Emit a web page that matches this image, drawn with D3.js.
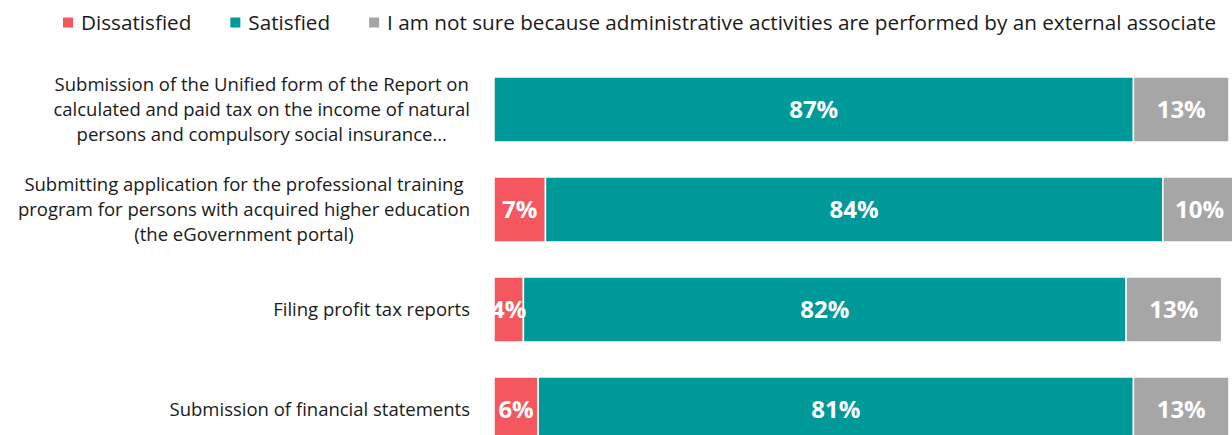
<!DOCTYPE html>
<html>
<head>
<meta charset="utf-8">
<script src="https://cdn.jsdelivr.net/npm/d3@7"></script>
<style>
  html, body { margin: 0; padding: 0; background: #fff; overflow: hidden; }
  svg { display: block; }
</style>
</head>
<body>
<svg id="chart" width="1232" height="435"></svg>
<script>
// Survey services (one line of label text per entry)
const categories = [
  ["Submission of the Unified form of the Report on", "calculated and paid tax on the income of natural", "persons and compulsory social insurance…"],
  ["Submitting application for the professional training", "program for persons with acquired higher education", "(the eGovernment portal)"],
  ["Filing profit tax reports"],
  ["Submission of financial statements"]
];
const seriesNames = ["Dissatisfied", "Satisfied", "I am not sure because administrative activities are performed by an external associate"];
const dissatisfied = [0, 7, 4, 6];
const satisfied = [87, 84, 82, 81];
const notSure = [13, 10, 13, 13];
const colors = ["#F4585E", "#009999", "#A6A6A6"];

const svg = d3.select("#chart");
const font = "'Open Sans', sans-serif";

const rows = categories.map((c, i) => ({ i, label: c, vals: [dissatisfied[i], satisfied[i], notSure[i]] }));

const x = d3.scaleLinear().domain([0, 100]).range([494, 1229]);
const y = d3.scaleBand().domain(d3.range(categories.length)).range([59.5, 459.5])
  .paddingInner(0.35).paddingOuter(0.175);

// Stacked segments
const stack = d3.stack().keys([0, 1, 2]).value((d, k) => d.vals[k]);
const layers = stack(rows);

const g = svg.append("g");
layers.forEach((layer, k) => {
  g.selectAll(null).data(layer.filter(d => d.data.vals[k] > 0)).enter()
    .append("rect")
    .attr("x", d => x(d[0]))
    .attr("y", d => y(d.data.i))
    .attr("width", d => x(d[1]) - x(d[0]))
    .attr("height", y.bandwidth())
    .attr("fill", colors[k])
    .attr("stroke", "#fff")
    .attr("stroke-width", 1.5);
});

// Value labels
layers.forEach((layer, k) => {
  g.selectAll(null).data(layer.filter(d => d.data.vals[k] > 0)).enter()
    .append("text")
    .attr("x", d => (x(d[0]) + x(d[1])) / 2)
    .attr("y", d => y(d.data.i) + y.bandwidth() / 2)
    .attr("dy", "0.36em")
    .attr("text-anchor", "middle")
    .attr("fill", "#fff")
    .attr("font-family", font)
    .attr("font-weight", "bold")
    .attr("font-size", 24)
    .text(d => d.data.vals[k] + "%");
});

// Category labels: centred lines, block right-aligned against the bars
const labelRight = 470;
const lineH = 25;
rows.forEach(r => {
  const t = svg.append("text")
    .attr("font-family", font)
    .attr("font-size", 18.5)
    .attr("fill", "#1a1a1a")
    .attr("text-anchor", "middle");
  const n = r.label.length;
  const cy = y(r.i) + y.bandwidth() / 2;
  const spans = r.label.map((line, j) => t.append("tspan")
    .attr("y", cy + (j - (n - 1) / 2) * lineH)
    .attr("dy", "0.35em")
    .text(line));
  const maxW = d3.max(spans, s => s.node().getComputedTextLength());
  spans.forEach(s => s.attr("x", labelRight - maxW / 2));
});

// Legend
const legend = svg.append("g").attr("transform", "translate(63,22.5)");
let lx = 0;
seriesNames.forEach((name, k) => {
  legend.append("rect").attr("x", lx).attr("y", -5).attr("width", 10).attr("height", 10).attr("fill", colors[k]);
  const t = legend.append("text")
    .attr("x", lx + 18).attr("y", 0).attr("dy", "0.36em")
    .attr("font-family", font).attr("font-size", 20.7).attr("fill", "#1a1a1a")
    .text(name);
  lx += 18 + t.node().getComputedTextLength() + 39;
});
</script>
</body>
</html>
